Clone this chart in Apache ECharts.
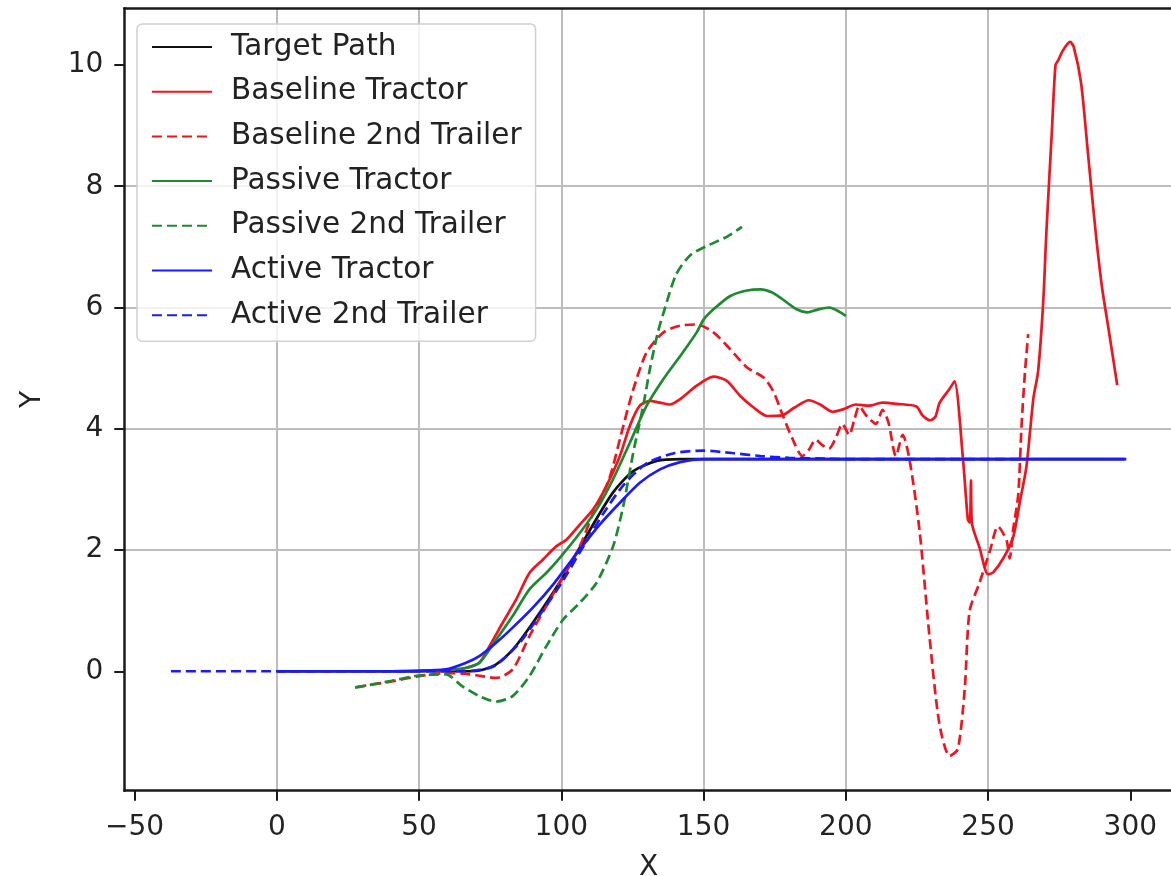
<!DOCTYPE html>
<html>
<head>
<meta charset="utf-8">
<script src="https://cdn.jsdelivr.net/npm/echarts@6/dist/echarts.min.js"></script>
<style>
  html, body { margin: 0; padding: 0; background: #ffffff; }
  #chart { width: 1171px; height: 876px; }
</style>
</head>
<body>
<div id="chart"></div>
<script>
// Tick positions on each axis
const xTicks = [-50, 0, 50, 100, 150, 200, 250, 300];
const yTicks = [0, 2, 4, 6, 8, 10];

// Lateral position Y against longitudinal position X, as [x, y] pairs
const targetPath = [
  [0, 0], [40, 0], [60, 0], [68, 0], [72, 0.02], [77, 0.11], [83, 0.36], [90, 0.8],
  [100, 1.51], [108.8, 2.23], [118.2, 2.95], [125.3, 3.3], [133.5, 3.47], [141.8, 3.5],
  [200, 3.5], [298, 3.5]
];

const baselineTractor = [
  [0, 0], [40, 0], [60, 0.02], [66, 0.05], [71.2, 0.14], [74.7, 0.41], [79.4, 0.8],
  [84.1, 1.18], [88.8, 1.62], [93.5, 1.84], [98.2, 2.06], [101.8, 2.17], [106.5, 2.42],
  [111.2, 2.67], [115.9, 3.06], [120.6, 3.55], [124.1, 4.05], [127.6, 4.38], [131.2, 4.46],
  [134.7, 4.43], [138.2, 4.4], [141.8, 4.49], [147.6, 4.71], [153.5, 4.86], [158.2, 4.79],
  [162.9, 4.54], [167.6, 4.35], [172.4, 4.21], [177.6, 4.22], [182, 4.35], [187, 4.47],
  [191, 4.4], [195.3, 4.28], [199, 4.32], [203.5, 4.4], [208, 4.38], [212.9, 4.43],
  [218, 4.41], [224.7, 4.37], [227, 4.22], [229.8, 4.14], [231.5, 4.2], [233, 4.43],
  [236.5, 4.66], [238.2, 4.78], [241.2, 3.49], [242.9, 2.5], [243.6, 2.45], [244.0, 3.15],
  [244.3, 2.45], [247, 2.04], [250, 1.6], [251.8, 1.63], [255.3, 1.86], [258.8, 2.21],
  [261.2, 2.8], [263.5, 3.38], [265.9, 4.49], [267.6, 4.95], [269.4, 6.1], [270.5, 7.25],
  [272.4, 8.88], [273.7, 10.0], [274.7, 10.08], [276.3, 10.24], [278.8, 10.38], [280.1, 10.3],
  [282.7, 9.7], [285.3, 8.45], [287.8, 7.25], [290, 6.35], [292.5, 5.6], [295.4, 4.72]
];

const baselineTrailer = [
  [28, -0.26], [40, -0.17], [50, -0.08], [60, -0.03], [66, -0.04], [72, -0.08], [77.1, -0.11],
  [82.9, 0.03], [88.8, 0.58], [94.7, 1.07], [100, 1.51], [106.5, 2.06], [111.2, 2.61],
  [115.9, 3.06], [118, 3.35], [120.6, 3.83], [125.3, 4.65], [130, 5.26], [135.9, 5.59],
  [141.8, 5.7], [147.6, 5.72], [153.5, 5.59], [159.4, 5.31], [165.3, 5.01], [171.2, 4.84],
  [174.7, 4.6], [177.6, 4.25], [181.2, 3.84], [184.7, 3.55], [187, 3.65], [189.4, 3.82],
  [192, 3.72], [194.1, 3.67], [196.5, 3.85], [198.8, 4.08], [201.2, 3.9], [203, 4.15],
  [204.7, 4.37], [207.5, 4.2], [210.6, 4.08], [212.9, 4.31], [215, 4.1], [217.6, 3.55],
  [220, 3.9], [222.4, 3.49], [225.9, 2.33], [229.4, 0.58], [232.9, -0.87], [236.5, -1.4],
  [239.4, -1.28], [241.8, -0.29], [243.5, 0.99], [247, 1.46], [250.6, 1.98], [253.5, 2.39],
  [256.5, 2.16], [257.6, 1.86], [258.8, 2.33], [260.6, 2.91], [261.8, 4.08], [263, 4.95],
  [264.1, 5.56]
];

const passiveTractor = [
  [0, 0], [40, 0], [60, 0.02], [66, 0.05], [71.2, 0.14], [77.1, 0.52], [82.9, 0.91],
  [88.8, 1.35], [94.7, 1.62], [100, 1.9], [106.5, 2.28], [112.4, 2.67], [118.2, 3.17],
  [124.1, 3.77], [130, 4.38], [135.9, 4.82], [141.8, 5.2], [147.6, 5.59], [150, 5.8],
  [153.5, 5.97], [159.4, 6.19], [165.3, 6.28], [170, 6.3], [174, 6.25], [177.6, 6.14],
  [182.7, 5.97], [186.5, 5.92], [190.4, 5.97], [194.2, 6.0], [198.1, 5.92], [200, 5.86]
];

const passiveTrailer = [
  [27.5, -0.27], [40, -0.16], [50, -0.07], [59.4, -0.05], [65.3, -0.25], [71.2, -0.41],
  [77.1, -0.5], [82.9, -0.41], [88.8, -0.08], [94.7, 0.41], [100.6, 0.85], [106.5, 1.13],
  [112.4, 1.46], [118.2, 2.06], [121.8, 2.73], [125.3, 3.61], [128.8, 4.38], [131.2, 5.0],
  [134, 5.6], [136.5, 6.0], [140.4, 6.55], [145.5, 6.87], [151.9, 7.03], [158.3, 7.17],
  [163.5, 7.33]
];

const activeTractor = [
  [0, 0], [40, 0], [59.4, 0.03], [66.5, 0.14], [71.2, 0.25], [77.1, 0.47], [82.9, 0.72],
  [90, 1.05], [97.1, 1.43], [106.5, 2.01], [113.5, 2.42], [120.6, 2.78], [127.6, 3.11],
  [134.7, 3.33], [141.8, 3.45], [150, 3.5], [200, 3.5], [298.6, 3.5]
];

const activeTrailer = [
  [-37.2, 0], [0, 0], [40, 0], [60, 0], [66, 0], [72, 0.03], [77, 0.1], [85, 0.45],
  [92, 0.9], [100, 1.45], [108, 2.08], [115, 2.62], [122, 3.08], [130, 3.43], [140, 3.6],
  [150, 3.64], [160, 3.6], [170, 3.55], [180, 3.52], [190, 3.51], [200, 3.5], [262, 3.5]
];

const FONT = '"DejaVu Sans", "Liberation Sans", sans-serif';
const TEXT = '#222222';
const SPINE = '#1a1a1a';
const GRID_LINE = { show: true, showMinLine: false, showMaxLine: false,
                    lineStyle: { color: '#bdbdbd', width: 2 } };
const DASH = [10, 5];
const X_MIN = -53.6, X_MAX = 315;
const Y_MIN = -1.97, Y_MAX = 10.935;

function pathSeries(name, data, color, dashed) {
  return {
    name: name,
    type: 'line',
    xAxisIndex: 0,
    data: data,
    symbol: 'none',
    smooth: 0.25,
    clip: true,
    itemStyle: { color: color },
    lineStyle: { color: color, width: 2.7, type: dashed ? DASH : 'solid' },
    emphasis: { disabled: true }
  };
}

const minusSign = v => String(v).replace('-', '\u2212');

const chart = echarts.init(document.getElementById('chart'), null, { renderer: 'canvas' });
chart.setOption({
  animation: false,
  backgroundColor: '#ffffff',
  grid: {
    show: false,
    outerBoundsMode: 'none',
    containLabel: false,
    left: 124.3, top: 8.3, right: -2, bottom: 85.3
  },
  xAxis: [
    {
      type: 'value',
      position: 'bottom',
      min: X_MIN, max: X_MAX,
      splitNumber: 8,
      name: 'X', nameLocation: 'middle', nameGap: 63,
      nameTextStyle: { fontFamily: FONT, fontSize: 28, color: TEXT },
      axisLine: { show: true, onZero: false, lineStyle: { color: SPINE, width: 2.5 } },
      axisTick: { show: true, inside: false, length: 10, customValues: xTicks,
                  lineStyle: { color: SPINE, width: 2 } },
      axisLabel: { customValues: xTicks, margin: 23, fontFamily: FONT, fontSize: 28,
                   color: TEXT, formatter: minusSign },
      splitLine: GRID_LINE
    },
    {
      // top frame edge
      type: 'value',
      position: 'top',
      min: X_MIN, max: X_MAX,
      axisLine: { show: true, onZero: false, lineStyle: { color: SPINE, width: 2.5 } },
      axisTick: { show: false },
      axisLabel: { show: false },
      splitLine: { show: false }
    }
  ],
  yAxis: {
    type: 'value',
    min: Y_MIN, max: Y_MAX,
    splitNumber: 6,
    name: 'Y', nameLocation: 'middle', nameGap: 78, nameRotate: 90,
    nameTextStyle: { fontFamily: FONT, fontSize: 28, color: TEXT },
    axisLine: { show: true, onZero: false, lineStyle: { color: SPINE, width: 2.5 } },
    axisTick: { show: true, inside: false, length: 10, customValues: yTicks,
                lineStyle: { color: SPINE, width: 2 } },
    axisLabel: { customValues: yTicks, margin: 21, fontFamily: FONT, fontSize: 28,
                 color: TEXT, formatter: minusSign, padding: [6, 0, 0, 0] },
    splitLine: GRID_LINE
  },
  legend: {
    orient: 'vertical',
    left: 137, top: 24,
    itemWidth: 60, itemHeight: 14, itemGap: 14.7,
    padding: [8, 14, 11, 14],
    backgroundColor: 'rgba(255,255,255,0.8)',
    borderColor: '#d0d0d0', borderWidth: 1.5, borderRadius: 5,
    selectedMode: false,
    itemStyle: { opacity: 0 },
    textStyle: { fontFamily: FONT, fontSize: 29.5, color: TEXT, lineHeight: 30,
                 padding: [0, 0, 0, 14] },
    data: ['Target Path', 'Baseline Tractor', 'Baseline 2nd Trailer', 'Passive Tractor',
           'Passive 2nd Trailer', 'Active Tractor', 'Active 2nd Trailer']
  },
  series: [
    pathSeries('Target Path', targetPath, '#111111', false),
    pathSeries('Baseline Tractor', baselineTractor, '#f0141e', false),
    pathSeries('Baseline 2nd Trailer', baselineTrailer, '#f0141e', true),
    pathSeries('Passive Tractor', passiveTractor, '#1e8a2e', false),
    pathSeries('Passive 2nd Trailer', passiveTrailer, '#1e8a2e', true),
    pathSeries('Active Tractor', activeTractor, '#1a1aff', false),
    pathSeries('Active 2nd Trailer', activeTrailer, '#1a1aff', true)
  ]
});
</script>
</body>
</html>
